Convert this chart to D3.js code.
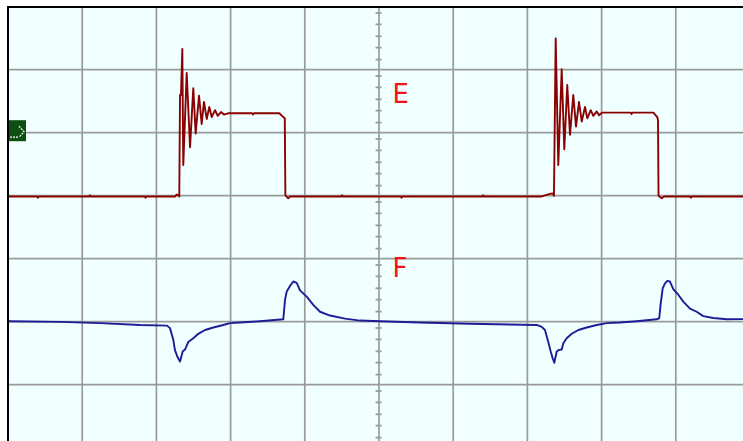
<!DOCTYPE html>
<html>
<head>
<meta charset="utf-8">
<script src="https://cdn.jsdelivr.net/npm/d3@7"></script>
<style>
  body { margin: 0; background: #ffffff; }
  svg { display: block; }
</style>
</head>
<body>
<div id="scope"></div>
<script>
// trace E (time in divisions, level in divisions)
var traceE = [
  [0.00, 0.98], [0.40, 0.98], [0.41, 0.96], [0.42, 0.98], [1.10, 0.98], [1.11, 1.00], [1.12, 0.98],
  [1.85, 0.98], [1.86, 0.96], [1.87, 0.98], [2.26, 0.98], [2.28, 1.01], [2.30, 1.00], [2.315, 0.98],
  [2.325, 2.59], [2.338, 2.59], [2.356, 3.32], [2.369, 1.48], [2.415, 2.94], [2.460, 1.76],
  [2.504, 2.70], [2.536, 1.98], [2.581, 2.58], [2.617, 2.13], [2.648, 2.48], [2.685, 2.21],
  [2.720, 2.40], [2.752, 2.24], [2.797, 2.35], [2.833, 2.26], [2.877, 2.32], [2.918, 2.28],
  [2.972, 2.30], [3.30, 2.30], [3.31, 2.28], [3.32, 2.30], [3.663, 2.30], [3.717, 2.24],
  [3.737, 2.22], [3.745, 1.00], [3.784, 0.95], [3.807, 0.98], [4.50, 0.98], [4.51, 1.00],
  [4.52, 0.98], [5.30, 0.98], [5.31, 0.96], [5.32, 0.98], [6.40, 0.98], [6.41, 1.00], [6.42, 0.98],
  [7.20, 0.98], [7.311, 1.02], [7.352, 1.03], [7.365, 0.99], [7.388, 3.49], [7.423, 1.48],
  [7.469, 3.00], [7.504, 1.73], [7.544, 2.75], [7.581, 1.96], [7.625, 2.59], [7.662, 2.09],
  [7.702, 2.48], [7.739, 2.17], [7.783, 2.40], [7.814, 2.22], [7.860, 2.35], [7.895, 2.26],
  [7.941, 2.33], [7.972, 2.27], [8.012, 2.31], [8.40, 2.31], [8.41, 2.29], [8.42, 2.31],
  [8.704, 2.31], [8.757, 2.24], [8.767, 2.19], [8.774, 0.99], [8.817, 0.95], [8.848, 0.98],
  [9.20, 0.98], [9.21, 0.96], [9.22, 0.98], [10.00, 0.98]
];

// trace F
var traceF = [
  [0.000, -1.00], [0.708, -1.01], [1.247, -1.03], [1.786, -1.06], [2.150, -1.07], [2.190, -1.11],
  [2.235, -1.30], [2.257, -1.46], [2.288, -1.56], [2.325, -1.64], [2.361, -1.48], [2.392, -1.45],
  [2.437, -1.33], [2.504, -1.27], [2.571, -1.20], [2.662, -1.14], [2.774, -1.10], [2.908, -1.06],
  [2.999, -1.03], [3.133, -1.02], [3.403, -1.00], [3.717, -0.97], [3.740, -0.66], [3.763, -0.53],
  [3.807, -0.44], [3.852, -0.37], [3.898, -0.39], [3.942, -0.51], [4.032, -0.61], [4.121, -0.74],
  [4.212, -0.85], [4.346, -0.91], [4.549, -0.96], [4.751, -0.99], [5.020, -1.00], [5.559, -1.02],
  [6.233, -1.04], [7.132, -1.06], [7.200, -1.09], [7.244, -1.14], [7.288, -1.33], [7.321, -1.48],
  [7.348, -1.59], [7.369, -1.66], [7.402, -1.48], [7.423, -1.46], [7.469, -1.45], [7.491, -1.35],
  [7.536, -1.27], [7.604, -1.20], [7.693, -1.14], [7.806, -1.10], [7.941, -1.06], [8.075, -1.03],
  [8.255, -1.02], [8.480, -1.00], [8.749, -0.97], [8.784, -0.95], [8.803, -0.72], [8.830, -0.48],
  [8.861, -0.40], [8.892, -0.36], [8.928, -0.37], [8.973, -0.49], [9.040, -0.58], [9.108, -0.69],
  [9.198, -0.80], [9.288, -0.85], [9.377, -0.92], [9.512, -0.95], [9.693, -0.97], [10.000, -0.965]
];

var channelNames = ['E', 'F'];
var channelColors = ['#8b0000', '#1c1c96'];

// screen size
var svgWidth = 743;
var svgHeight = 441;

// page margin (the screen is cut on the right and bottom)
var margin = {
  top: 6.2,
  left: 7.5
};

var width = 742;   // 10 divisions
var height = 504;  // 8 divisions

var svg = d3.select('#scope')
  .append('svg')
  .attr('width', svgWidth)
  .attr('height', svgHeight);

var chartGroup = svg.append('g')
  .attr('transform', `translate(${margin.left}, ${margin.top})`);

// scales
var xScale = d3.scaleLinear().domain([0, 10]).range([0, width]);
var yScale = d3.scaleLinear().domain([-4, 4]).range([height, 0]);

// background
chartGroup.append('rect')
  .attr('x', 0.5)
  .attr('y', 0.8)
  .attr('width', width)
  .attr('height', height)
  .attr('fill', '#f0ffff');

// vertical grid
var xGrid = chartGroup.append('g')
  .attr('transform', `translate(0, ${height})`)
  .call(d3.axisBottom(xScale)
    .tickValues(d3.range(1, 10))
    .tickSize(-height)
    .tickFormat(''));

// horizontal grid
var yGrid = chartGroup.append('g')
  .call(d3.axisLeft(yScale)
    .tickValues(d3.range(-3, 4))
    .tickSize(-width)
    .tickFormat(''));

[xGrid, yGrid].forEach(function (g) {
  g.select('.domain').remove();
  g.selectAll('line')
    .attr('stroke', '#9a9a9a')
    .attr('stroke-width', 1.7);
});

// small ticks on the centre line
var minorFrac = [0.1, 0.28, 0.47, 0.65, 0.84];
var minorTicks = [];
d3.range(4, -4, -1).forEach(function (n) {
  minorFrac.forEach(function (f) { minorTicks.push(n - f); });
});

var centreTicks = chartGroup.append('g')
  .attr('transform', `translate(${xScale(5) - 3}, 0)`)
  .call(d3.axisRight(yScale)
    .tickValues(minorTicks)
    .tickSize(6)
    .tickFormat(''));
centreTicks.select('.domain').remove();
centreTicks.selectAll('line')
  .attr('stroke', '#9a9a9a')
  .attr('stroke-width', 1.8);

// border (left and top only are on screen)
chartGroup.append('path')
  .attr('d', `M0.5,${height} V0.8 H${width}`)
  .attr('fill', 'none')
  .attr('stroke', '#000000')
  .attr('stroke-width', 2);

// clip the traces to the screen
svg.append('clipPath')
  .attr('id', 'screen')
  .append('rect')
  .attr('x', 1.5)
  .attr('y', 1.8)
  .attr('width', width)
  .attr('height', height);

var line = d3.line()
  .x(d => xScale(d[0]))
  .y(d => yScale(d[1]));

var traceGroup = chartGroup.append('g')
  .attr('clip-path', 'url(#screen)');

[traceE, traceF].forEach(function (trace, i) {
  traceGroup.append('path')
    .datum(trace)
    .attr('d', line)
    .attr('fill', 'none')
    .attr('stroke', channelColors[i])
    .attr('stroke-width', 1.9)
    .attr('stroke-linejoin', 'round');
});

// channel labels
var labelLevels = [2.47, -0.30];
chartGroup.selectAll('.chLabel')
  .data(channelNames)
  .enter()
  .append('text')
  .classed('chLabel', true)
  .attr('x', xScale(5.19))
  .attr('y', (d, i) => yScale(labelLevels[i]))
  .attr('fill', '#f01414')
  .attr('font-family', 'DejaVu Sans, sans-serif')
  .attr('font-size', '26px')
  .text(d => d);

// reference marker on the left edge
var marker = chartGroup.append('g')
  .attr('transform', `translate(1.5, ${yScale(2)})`);

marker.append('rect')
  .attr('x', 0)
  .attr('y', -12)
  .attr('width', 17)
  .attr('height', 21)
  .attr('fill', '#0d4f12');

marker.append('path')
  .attr('d', 'M1,5 H9 M10,-6 L15,-0.5 L10,5')
  .attr('fill', 'none')
  .attr('stroke', '#ffffff')
  .attr('stroke-width', 1.2)
  .attr('stroke-dasharray', '2,1');
</script>
</body>
</html>
